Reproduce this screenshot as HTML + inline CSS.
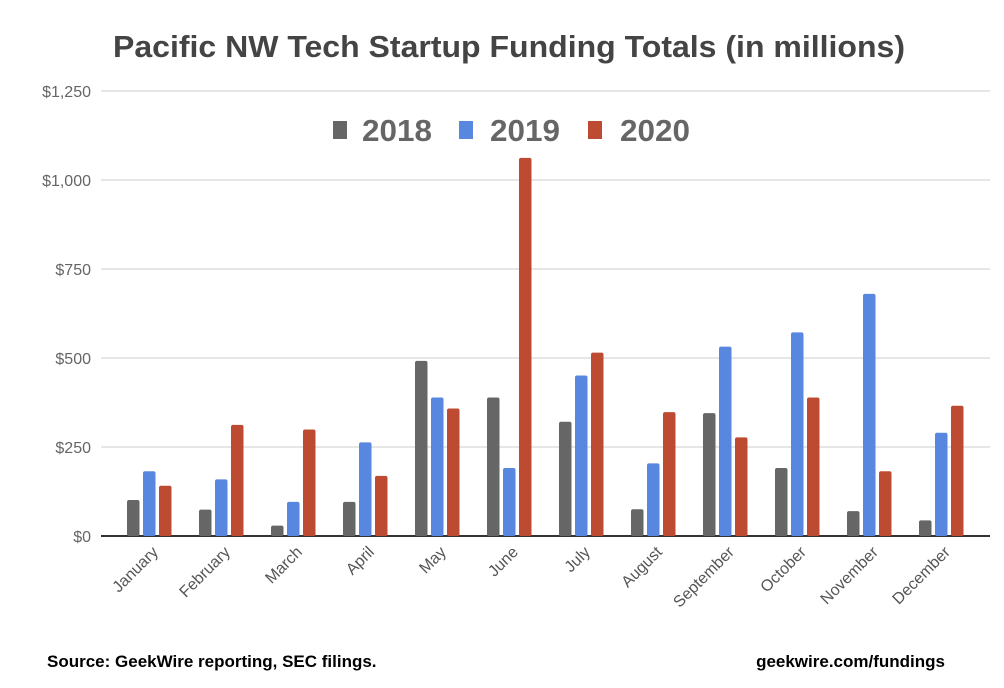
<!DOCTYPE html>
<html><head><meta charset="utf-8"><style>
body{margin:0;background:#fff;}
svg{display:block;font-family:"Liberation Sans",sans-serif;}
</style></head><body>
<svg id="chart" width="1004" height="688">
<text x="509" y="57" text-anchor="middle" font-size="31" font-weight="bold" fill="#444" textLength="792" lengthAdjust="spacingAndGlyphs">Pacific NW Tech Startup Funding Totals (in millions)</text>
<g id="grid"></g><g id="bars"></g><g id="xlabels"></g>
<g>
<rect x="333" y="121" width="14" height="18" fill="#666"/>
<text x="362" y="141" font-size="31" font-weight="bold" fill="#666" textLength="70" lengthAdjust="spacingAndGlyphs">2018</text>
<rect x="459" y="121" width="14" height="18" fill="#5887e0"/>
<text x="490" y="141" font-size="31" font-weight="bold" fill="#666" textLength="70" lengthAdjust="spacingAndGlyphs">2019</text>
<rect x="588" y="121" width="14" height="18" fill="#bd4b32"/>
<text x="620" y="141" font-size="31" font-weight="bold" fill="#666" textLength="70" lengthAdjust="spacingAndGlyphs">2020</text>
</g>
<text x="47" y="667" font-size="17" font-weight="bold" fill="#000">Source: GeekWire reporting, SEC filings.</text>
<text x="945" y="667" text-anchor="end" font-size="17" font-weight="bold" fill="#000">geekwire.com/fundings</text>
</svg>
<script>
const months=["January","February","March","April","May","June","July","August","September","October","November","December"];
const v2018=[101,74,29,96,492,389,321,75,345,191,70,44];
const v2019=[182,159,96,263,389,191,451,204,532,572,680,290];
const v2020=[141,312,299,169,358,1062,515,348,277,389,182,366];
const yTicks=[0,250,500,750,1000,1250];
const yTickLabels=["$0","$250","$500","$750","$1,000","$1,250"];
const NS="http://www.w3.org/2000/svg";
const y0=536,pxPer=445/1250;
function y(v){return y0-v*pxPer;}
function xc(i){return 149+i*72;}
function mk(t,a,p){const e=document.createElementNS(NS,t);for(const k in a)e.setAttribute(k,a[k]);p.appendChild(e);return e;}
const grid=document.getElementById('grid');
yTicks.forEach((t,i)=>{
  const l=mk('line',{x1:101,x2:990,y1:y(t),y2:y(t),stroke:t===0?'#333':'#ccc','stroke-width':t===0?2:1},grid);
  
  
  const tx=mk('text',{x:91,y:y(t)+6,'text-anchor':'end','font-size':16,fill:'#666'},grid);
  tx.textContent=yTickLabels[i];
  
  
});
const bars=document.getElementById('bars');
const series=[[v2018,'#666','2018'],[v2019,'#5887e0','2019'],[v2020,'#bd4b32','2020']];
months.forEach((m,i)=>{
  series.forEach((s,j)=>{
    const v=s[0][i];
    const r=mk('rect',{x:xc(i)-22+j*16,y:y(v),width:12.5,height:y0-y(v),rx:2,fill:s[1]},bars);
    
    
  });
  const t=mk('text',{x:xc(i)+10,y:553,'text-anchor':'end','font-size':16,fill:'#555',transform:`rotate(-45 ${xc(i)+10} 553)`},document.getElementById('xlabels'));
  t.textContent=m;
  
  
});
</script>
</body></html>
